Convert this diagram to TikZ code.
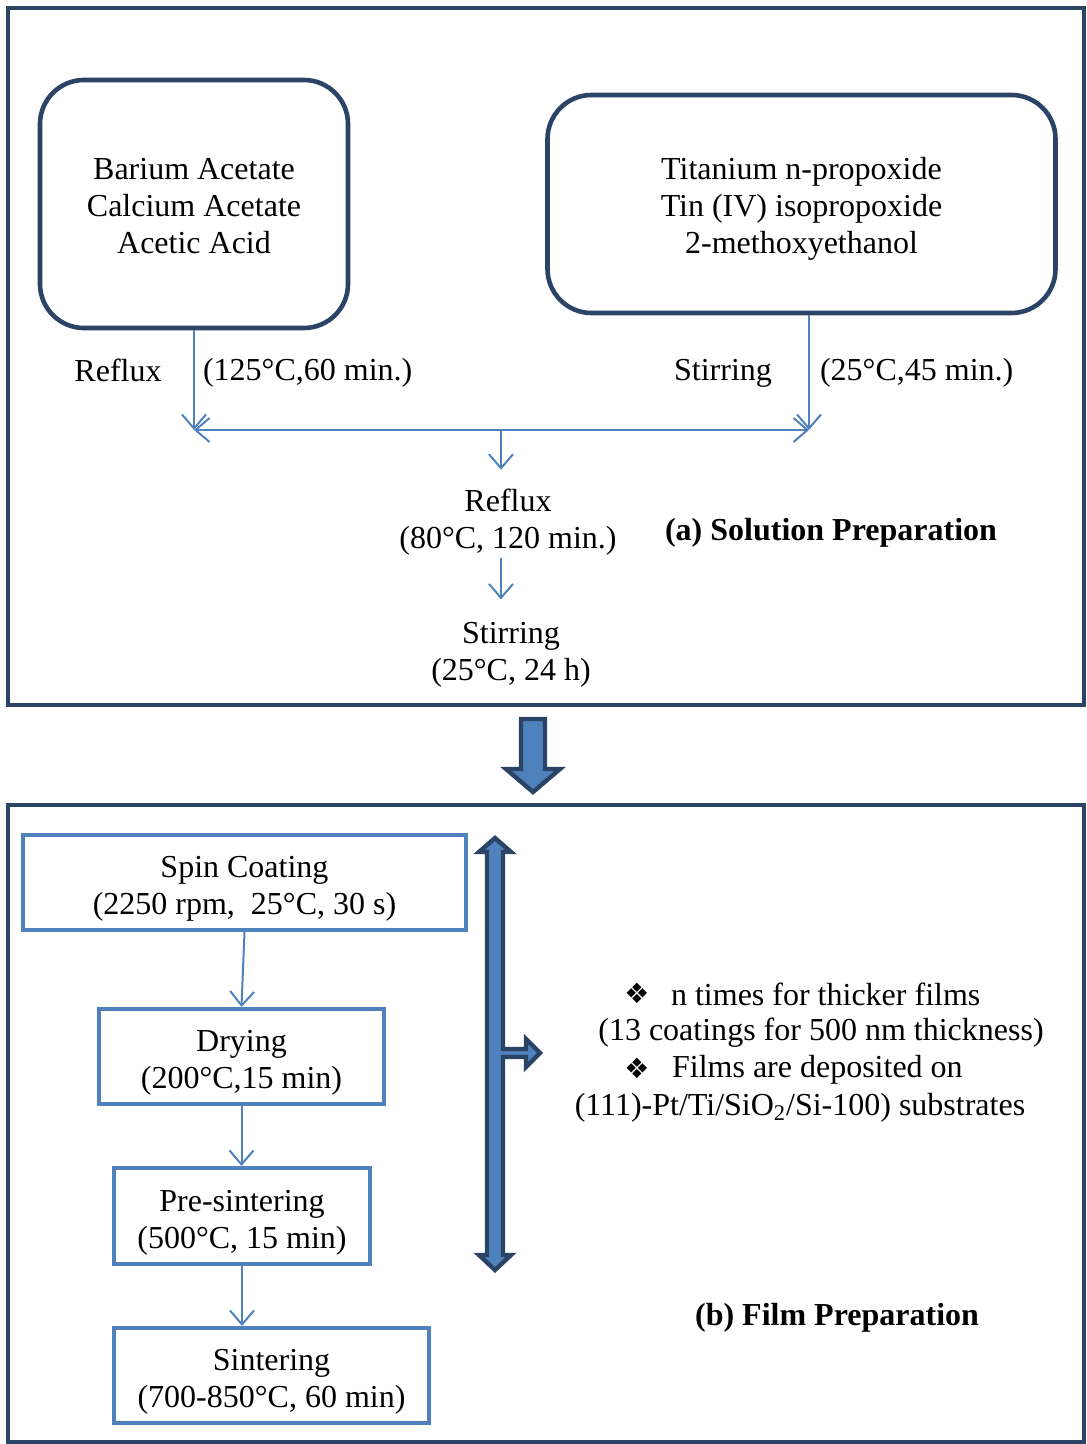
\documentclass[tikz,border=0pt]{standalone}
\usepackage{fontspec}
\setmainfont{Liberation Serif}
\newfontfamily\bulletfont{DejaVu Sans}
\usetikzlibrary{arrows.meta}
\definecolor{navyline}{HTML}{2B4466}
\definecolor{stepblue}{HTML}{4F81BD}
\newcommand{\topstrut}{\rule{0pt}{17pt}}

\begin{document}
\begin{tikzpicture}[x=0.5pt, y=-0.5pt]
\tikzstyle{panel} = [draw=navyline, line width=2pt]
\tikzstyle{reagent} = [rectangle, rounded corners=22pt, draw=navyline, line width=2.3pt, align=center, font=\fontsize{16}{18.5}\selectfont]
\tikzstyle{stepbox} = [rectangle, draw=stepblue, line width=2pt, align=center, inner sep=0pt, font=\fontsize{16}{18.5}\selectfont]
\tikzstyle{note} = [align=center, font=\fontsize{16}{18.5}\selectfont]
\tikzstyle{heading} = [font=\fontsize{16}{18.5}\selectfont\bfseries]
\tikzstyle{flow} = [draw=stepblue, line width=1pt, -{Straight Barb[length=7pt,width=12pt]}]
\tikzstyle{blockarrow} = [draw=navyline, fill=stepblue, line width=2.2pt]

\useasboundingbox (0,0) rectangle (1086,1444);

% Two panels
\draw[panel] (8,8) rectangle (1084,705);
\draw[panel] (8,805) rectangle (1084,1442);

% Starting reagents
\node (bariumbox) [reagent, minimum width=154pt, minimum height=124pt] at (194,204) {\rule{0pt}{13pt}Barium Acetate\\Calcium Acetate\\Acetic Acid};
\node (titaniumbox) [reagent, minimum width=254pt, minimum height=109pt] at (801.5,204) {\rule{0pt}{16pt}Titanium n-propoxide\\Tin (IV) isopropoxide\\2-methoxyethanol};

% Conditions
\node (refluxleft) [note] at (118,370) {Reflux};
\node (refluxcond) [note, anchor=west] at (196,373) {(125°C,60 min.)};
\node (stirright) [note] at (723,373) {Stirring};
\node (stircond) [note, anchor=west] at (813,373) {(25°C,45 min.)};

\coordinate (jl) at (194,430);
\coordinate (jr) at (809,430);
\coordinate (jm) at (501,430);

\draw[flow] (bariumbox.south) -- (jl);
\draw[flow] (titaniumbox.south -| jr) -- (jr);
\draw[flow, {Straight Barb[length=7pt,width=12pt]}-{Straight Barb[length=7pt,width=12pt]}] (jl) -- (jr);

% Mixing steps
\node (refluxmix) [note] at (508,522) {Reflux\\(80°C, 120 min.)};
\node (stirmix) [note] at (511,655) {Stirring\\(25°C, 24 h)};
\draw[flow, shorten >=6pt] (jm) -- (jm |- refluxmix.north);
\draw[flow, shorten <=-2pt, shorten >=8pt] (refluxmix.south -| jm) -- (stirmix.north -| jm);

\node (titlea) [heading] at (831,533) {(a) Solution Preparation};

% Arrow between panels
\draw[blockarrow] (521,719) -- (545,719) -- (545,769) -- (560,769) -- (533,792) -- (506,769) -- (521,769) -- cycle;

% Film steps
\node (spin) [stepbox, minimum width=221.5pt, minimum height=47.5pt] at (244.5,882.5) {\topstrut Spin Coating\\(2250 rpm,~ 25°C, 30 s)};
\node (drying) [stepbox, minimum width=142.5pt, minimum height=47.5pt] at (241.5,1056.5) {\topstrut Drying\\(200°C,15 min)};
\node (presinter) [stepbox, minimum width=128pt, minimum height=48pt] at (242,1216) {\topstrut Pre-sintering\\(500°C, 15 min)};
\node (sinter) [stepbox, minimum width=157.5pt, minimum height=47.5pt] at (271.5,1375.5) {\topstrut Sintering\\(700-850°C, 60 min)};

\draw[flow] (spin.south) -- (drying.north);
\draw[flow] (drying.south) -- (presinter.north -| drying.south);
\draw[flow] (presinter.south) -- (presinter.south |- sinter.north);

% Repeat arrow
\draw[blockarrow] (495,838) -- (511,852) -- (503,852) -- (503,1049) -- (526,1049) -- (526,1039) -- (540,1053)
  -- (526,1067) -- (526,1057) -- (503,1057) -- (503,1255) -- (511,1255) -- (495,1270) -- (479,1255)
  -- (487,1255) -- (487,852) -- (479,852) -- cycle;

% Notes
\node (bulletone) [font=\bulletfont\fontsize{14}{16}\selectfont] at (637,993) {❖};
\node (thicker) [note, anchor=west] at (664,994) {n times for thicker films};
\node (coatings) [note] at (821,1033) {(13 coatings for 500 nm thickness)};
\node (bullettwo) [font=\bulletfont\fontsize{14}{16}\selectfont] at (637,1068) {❖};
\node (deposited) [note, anchor=west] at (665,1070) {Films are deposited on};
\node (substrates) [note] at (800,1108) {(111)-Pt/Ti/SiO\textsubscript{2}/Si-100) substrates};

\node (titleb) [heading] at (837,1318) {(b) Film Preparation};

\end{tikzpicture}
\end{document}
